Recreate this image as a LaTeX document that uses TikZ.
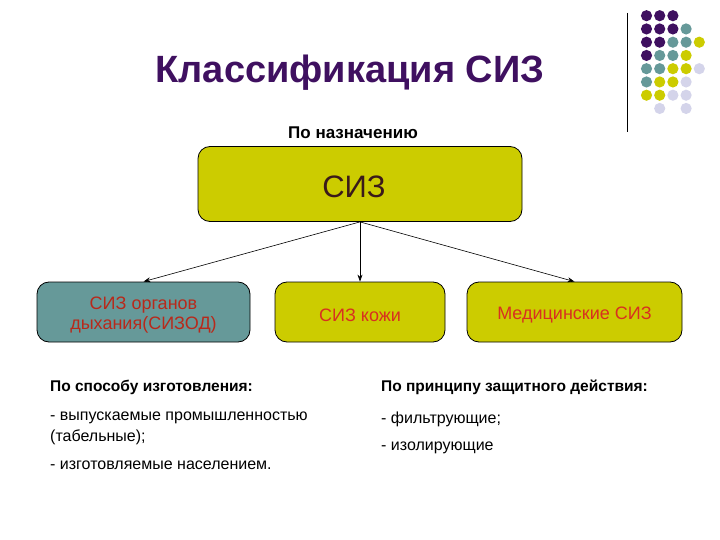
\documentclass[tikz,border=0pt]{standalone}
\usepackage{fontspec}
\setmainfont{Liberation Sans}
\usetikzlibrary{arrows.meta}
\definecolor{dpurple}{HTML}{3F1060}
\definecolor{teal}{HTML}{669999}
\definecolor{olive}{HTML}{CCCC00}
\definecolor{lav}{HTML}{D4D4EA}
\definecolor{boxred}{HTML}{D83020}
\definecolor{sizbrown}{HTML}{3A1A1A}
\tikzset{
  boxstyle/.style={draw=black, line width=0.8pt, rounded corners=12pt, inner sep=2pt, align=center},
  lowbox/.style={boxstyle, minimum height=60pt},
  lowtext/.style={align=center, inner sep=0pt, text=boxred, font=\fontsize{18}{20}\selectfont},
  conn/.style={-{Stealth[length=7pt,width=5pt]}, line width=0.6pt},
  txt/.style={anchor=base west, inner sep=0pt, font=\fontsize{16}{18}\selectfont},
  btxt/.style={txt, font=\fontsize{15.5}{18}\selectfont\bfseries},
  dot/.style={radius=5.6pt}
}
\def\nodot{N}
\begin{document}
\begin{tikzpicture}[x=1pt,y=-1pt]
\useasboundingbox (0,0) rectangle (720,540);
% decorative dots
\draw[line width=0.8pt] (627,13) -- (627,132);
\foreach \r/\list in {0/{dpurple,dpurple,dpurple,N,N},1/{dpurple,dpurple,dpurple,teal,N},2/{dpurple,dpurple,teal,teal,olive},3/{dpurple,teal,teal,olive,N},4/{teal,teal,olive,olive,lav},5/{teal,olive,olive,lav,N},6/{olive,olive,lav,lav,N},7/{N,lav,N,lav,N}}{
  \foreach \c [count=\i from 0] in \list {
    \ifx\c\nodot\else
      \fill[\c] (646.5+13.2*\i,15.7+13.25*\r) circle[dot];
    \fi
  }
}
% title
\node[anchor=base, inner sep=0pt, text=dpurple, font=\fontsize{38}{40}\selectfont\bfseries] (title) at (350,83) {Классификация СИЗ};
\node[anchor=base, inner sep=0pt, font=\fontsize{17}{19}\selectfont\bfseries] (label) at (353,139) {По назначению};
% main box
\node[boxstyle, fill=olive, minimum width=324pt, minimum height=75pt] (siz) at (360,184) {};
\node[anchor=base, inner sep=0pt, text=sizbrown, font=\fontsize{31}{34}\selectfont] (siztext) at (354,198) {СИЗ};
% lower boxes
\node[lowbox, fill=teal, minimum width=213pt] (b1) at (143.5,312) {};
\node[lowbox, fill=olive, minimum width=170pt] (b2) at (360,312) {};
\node[lowbox, fill=olive, minimum width=215pt] (b3) at (574.5,312) {};
\node[lowtext, text=boxred!85!black] (t1) at ([yshift=-3pt]b1.center) {СИЗ органов\\дыхания(СИЗОД)};
\node[lowtext] (t2) at ([yshift=-3pt]b2.center) {СИЗ кожи};
\node[lowtext] (t3) at ([yshift=-3pt]b3.center) {Медицинские СИЗ};
\draw[conn] (siz.south) -- (b1.north);
\draw[conn] (siz.south) -- (b2.north);
\draw[conn] (siz.south) -- (b3.north);
% text blocks
\node[btxt] (l1) at (50,391) {По способу изготовления:};
\node[txt] (l2) at (50,420) {- выпускаемые промышленностью};
\node[txt] (l3) at (50,441) {(табельные);};
\node[txt] (l4) at (50,469) {- изготовляемые населением.};
\node[btxt] (r1) at (381,391) {По принципу защитного действия:};
\node[txt] (r2) at (381,423) {- фильтрующие;};
\node[txt] (r3) at (381,450) {- изолирующие};
\end{tikzpicture}
\end{document}
